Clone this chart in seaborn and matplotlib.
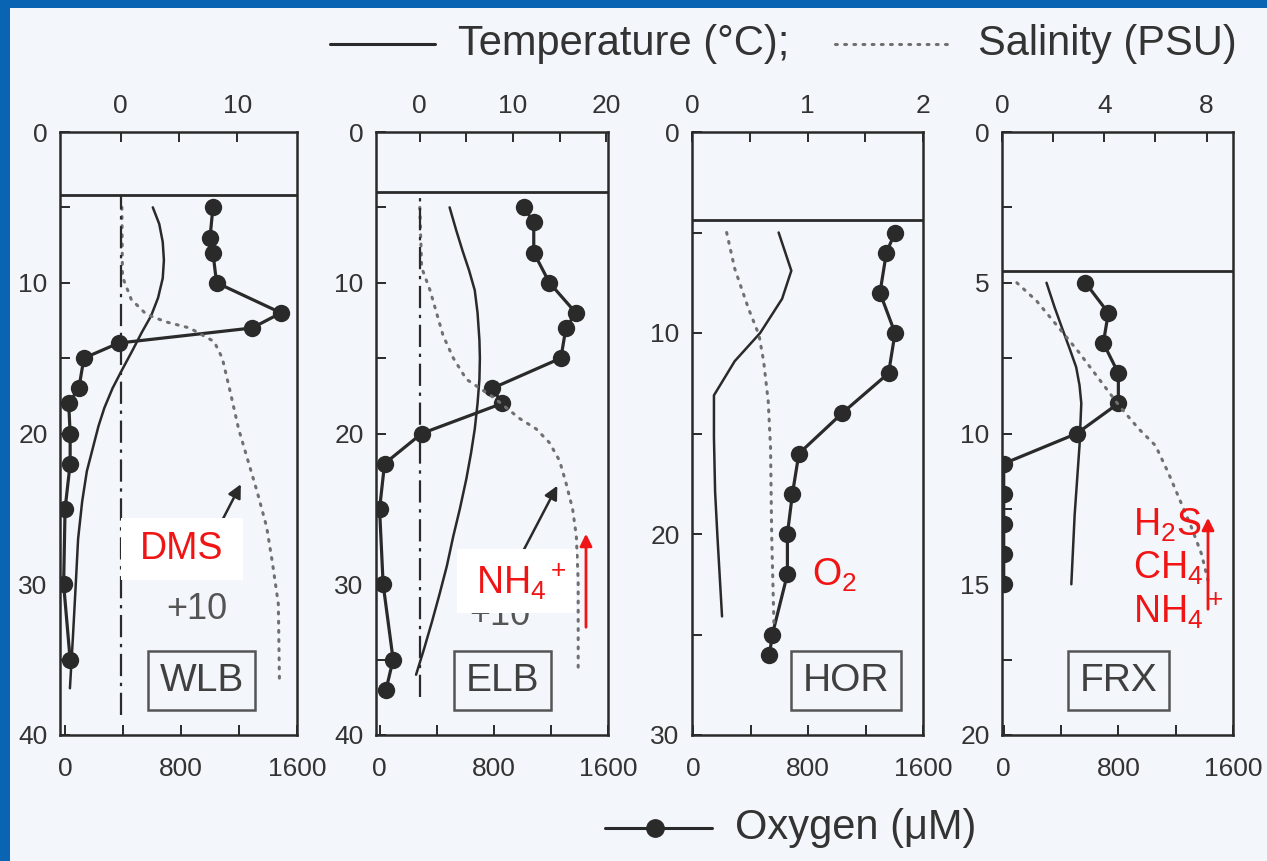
import numpy as np
import seaborn as sns
import matplotlib.pyplot as plt
from matplotlib.patches import Rectangle
from matplotlib.lines import Line2D

# ---------------- data ----------------
stations = ["WLB", "ELB", "HOR", "FRX"]

# oxygen (uM) against depth (m)
wlb_o2_depth = [5, 7, 8, 10, 12, 13, 14, 15, 17, 18, 20, 22, 25, 30, 35]
wlb_o2 = [1020, 1000, 1020, 1045, 1490, 1290, 370, 130, 95, 25, 35, 35, 0, -10, 35]
elb_o2_depth = [5, 6, 8, 10, 12, 13, 15, 17, 18, 20, 22, 25, 30, 35, 37]
elb_o2 = [1010, 1080, 1080, 1190, 1375, 1305, 1270, 790, 860, 295, 35, 0, 25, 95, 45]
hor_o2_depth = [5, 6, 8, 10, 12, 14, 16, 18, 20, 22, 25, 26]
hor_o2 = [1405, 1345, 1300, 1405, 1360, 1035, 735, 690, 655, 655, 550, 530]
frx_o2_depth = [5, 6, 7, 8, 9, 10, 11, 12, 13, 14, 15]
frx_o2 = [570, 730, 695, 800, 800, 510, 0, 0, 0, 0, 0]

# temperature (deg C) against depth
wlb_temp_depth = [5, 6.1, 7.3, 8.5, 9.7, 11, 12.2, 13.3, 14.5, 15.8, 17, 18.3, 19.5, 21, 22.5,
                  24.5, 27, 30, 33.6, 36.9]
wlb_temp = [2.75, 3.3, 3.6, 3.7, 3.6, 3.2, 2.6, 1.8, 1.0, 0.1, -0.7, -1.4, -1.9, -2.4, -2.9,
            -3.3, -3.65, -3.85, -4.1, -4.35]
elb_temp_depth = [5, 6.5, 7.9, 9.2, 10.5, 12, 13.8, 15, 16.4, 18, 19.7, 21.3, 23, 25, 26.8,
                  28.8, 30.7, 32.5, 34.2, 36.0]
elb_temp = [3.2, 3.9, 4.6, 5.3, 5.9, 6.2, 6.4, 6.45, 6.4, 6.2, 5.9, 5.5, 5.0, 4.3, 3.6,
            2.9, 2.1, 1.3, 0.5, -0.4]
hor_temp_depth = [5, 6.9, 8.3, 10.0, 11.4, 13.1, 15.2, 17.9, 20.1, 24.1]
hor_temp = [0.75, 0.86, 0.78, 0.59, 0.37, 0.19, 0.19, 0.20, 0.22, 0.26]
frx_temp_depth = [5, 5.8, 6.6, 7.2, 7.8, 8.4, 9.0, 10.4, 12.7, 15.0]
frx_temp = [1.74, 2.05, 2.39, 2.65, 2.9, 3.03, 3.1, 3.03, 2.84, 2.71]

# salinity (PSU) against depth (WLB / ELB drawn +10 offset)
wlb_sal_depth = [5, 9.6, 11.1, 12.1, 12.6, 13.0, 13.9, 15.0, 17.3, 19.7, 21.8, 23.9, 26.2, 28.6, 31.3, 36.6]
wlb_sal = [0.1, 0.15, 0.9, 2.2, 3.9, 5.9, 8.0, 8.7, 9.4, 10.1, 10.9, 11.7, 12.5, 13.0, 13.5, 13.6]
elb_sal_depth = [5, 9.0, 10.5, 13.5, 15.0, 16.4, 17.6, 19.0, 19.7, 20.6, 21.8, 23.3, 25.0, 26.8, 29.8, 35.7]
elb_sal = [0.0, 0.2, 1.1, 2.5, 3.6, 5.0, 7.9, 10.7, 12.5, 13.9, 15.0, 15.7, 16.4, 16.8, 17.0, 17.0]
hor_sal_depth = [5, 6.8, 8.8, 10.1, 11.4, 13.4, 15.7, 20.1, 24.6]
hor_sal = [0.30, 0.37, 0.49, 0.58, 0.62, 0.66, 0.68, 0.69, 0.71]
frx_sal_depth = [5, 5.6, 6.4, 7.3, 8.2, 9.1, 9.85, 10.4, 11.3, 12.1, 13.1, 14.0, 14.9]
frx_sal = [0.58, 1.35, 2.13, 3.0, 3.8, 4.6, 5.35, 6.0, 6.5, 6.9, 7.4, 7.8, 8.06]

# depth of the horizontal surface line in each panel
surface_depth = [4.15, 3.95, 4.4, 4.6]

o2_depths = [wlb_o2_depth, elb_o2_depth, hor_o2_depth, frx_o2_depth]
o2_vals = [wlb_o2, elb_o2, hor_o2, frx_o2]
temp_depths = [wlb_temp_depth, elb_temp_depth, hor_temp_depth, frx_temp_depth]
temp_vals = [wlb_temp, elb_temp, hor_temp, frx_temp]
sal_depths = [wlb_sal_depth, elb_sal_depth, hor_sal_depth, frx_sal_depth]
sal_vals = [wlb_sal, elb_sal, hor_sal, frx_sal]

# ---------------- axes layout ----------------
depth_max = [40, 40, 30, 20]
depth_step = [10, 10, 10, 5]
o2_left = [-35, -25, -10, -12]
ts_lim = [(-5.2, 15.1), (-4.7, 20.2), (0.0, 2.0), (0.06, 9.03)]
ts_major = [[0, 10], [0, 10, 20], [0, 1, 2], [0, 4, 8]]
ts_minor = [[5], [5, 15], [0.5, 1.5], [2, 6]]
label_x = [0.597, 0.544, 0.665, 0.506]
zero_line_end = [38.7, 37.5, None, None]

W, H = 1267, 861
panel_x = [(60, 297), (376, 608), (692, 923), (1002, 1233)]
panel_top, panel_bot = 132, 735

ink = "#2a2a2a"
grey = "#5a5a5a"
red = "#f01414"
blue = "#0a64b4"

sns.set_theme(style="ticks")
plt.rcParams["font.family"] = ["Liberation Sans", "DejaVu Sans"]
plt.rcParams["mathtext.fontset"] = "custom"
plt.rcParams["mathtext.rm"] = "Liberation Sans"
plt.rcParams["mathtext.it"] = "Liberation Sans:italic"
plt.rcParams["mathtext.bf"] = "Liberation Sans:bold"

fig = plt.figure(figsize=(W / 100, H / 100), dpi=100)
fig.patch.set_facecolor("#f3f6fa")

for i, name in enumerate(stations):
    x0, x1 = panel_x[i]
    ax = fig.add_axes([x0 / W, 1 - panel_bot / H, (x1 - x0) / W, (panel_bot - panel_top) / H])
    ax.set_facecolor("none")
    axt = ax.twiny()

    sns.lineplot(x=o2_vals[i], y=o2_depths[i], sort=False, estimator=None, ax=ax,
                 color=ink, lw=2.3, marker="o", markersize=12.5, markeredgewidth=0)
    sns.lineplot(x=temp_vals[i], y=temp_depths[i], sort=False, estimator=None, ax=axt,
                 color=ink, lw=1.8)
    sns.lineplot(x=sal_vals[i], y=sal_depths[i], sort=False, estimator=None, ax=axt,
                 color="#707070", lw=2.2, linestyle=(0, (0.6, 2.4)), dash_capstyle="round")

    ax.set_xlim(o2_left[i], 1600)
    axt.set_xlim(*ts_lim[i])
    ax.set_ylim(depth_max[i], 0)
    for a in (ax, axt):
        a.set_xlabel("")
        a.set_ylabel("")

    ax.axhline(surface_depth[i], color=ink, lw=2.0)
    if zero_line_end[i] is not None:
        axt.axvline(0, ymin=1 - zero_line_end[i] / depth_max[i],
                    ymax=1 - surface_depth[i] / depth_max[i],
                    color=ink, lw=1.6, linestyle=(0, (10, 3, 1.5, 3)))

    ax.set_xticks([0, 800, 1600])
    ax.set_xticks([400, 1200], minor=True)
    ax.set_yticks(list(range(0, depth_max[i] + 1, depth_step[i])))
    ax.set_yticks([v + depth_step[i] / 2 for v in range(0, depth_max[i], depth_step[i])], minor=True)
    axt.set_xticks(ts_major[i])
    axt.set_xticks(ts_minor[i], minor=True)

    ax.tick_params(axis="both", which="both", direction="in", length=7, width=1.4,
                   color=ink, labelcolor="#333333", labelsize=19,
                   bottom=True, left=True, top=False, right=False)
    ax.tick_params(axis="x", pad=16)
    ax.tick_params(axis="y", pad=9)
    axt.tick_params(axis="x", which="both", direction="in", length=7, width=1.4,
                    color=ink, labelcolor="#333333", labelsize=19, pad=10,
                    top=True, labeltop=True, bottom=False, labelbottom=False)
    for s in ax.spines.values():
        s.set_visible(True)
        s.set_color(ink)
        s.set_linewidth(1.8)
    for s in axt.spines.values():
        s.set_visible(False)

    ax.text(label_x[i], 0.09, name, transform=ax.transAxes, ha="center", va="center",
            fontsize=28, color="#404040",
            bbox=dict(boxstyle="square,pad=0.3", fc="none", ec="#555555", lw=1.8))

    if name == "WLB":
        axt.annotate("", xy=(10.4, 23.2), xytext=(8.0, 26.8),
                     arrowprops=dict(arrowstyle="-|>", color=ink, lw=1.8, mutation_scale=20))
        axt.text(6.5, 31.7, "+10", ha="center", va="center", fontsize=26, color="#555555")
    if name == "ELB":
        axt.annotate("", xy=(14.9, 23.3), xytext=(10.5, 28.5),
                     arrowprops=dict(arrowstyle="-|>", color=ink, lw=1.8, mutation_scale=20))
        axt.text(8.6, 32.1, "+10", ha="center", va="center", fontsize=26, color="#555555")


def fx(x):
    return x / W


def fy(y):
    return 1 - y / H


# legend at the top
fig.add_artist(Line2D([fx(330), fx(435)], [fy(44), fy(44)], color=ink, lw=2.2))
fig.text(fx(458), fy(44), "Temperature (°C);", fontsize=30, va="center", ha="left", color="#333333")
fig.add_artist(Line2D([fx(835), fx(950)], [fy(44), fy(44)], color="#707070", lw=2.2,
                      linestyle=(0, (0.6, 2.4)), dash_capstyle="round"))
fig.text(fx(978), fy(44), "Salinity (PSU)", fontsize=30, va="center", ha="left", color="#333333")

# legend at the bottom
fig.add_artist(Line2D([fx(605), fx(712)], [fy(828), fy(828)], color=ink, lw=2.2))
fig.add_artist(Line2D([fx(655)], [fy(828)], marker="o", markersize=12.5, color=ink, lw=0))
fig.text(fx(735), fy(828), "Oxygen (μM)", fontsize=30, va="center", ha="left", color="#333333")

# red annotations
fig.add_artist(Rectangle((fx(121), fy(580)), (243 - 121) / W, (580 - 518) / H,
                         transform=fig.transFigure, fc="white", ec="none", zorder=5))
fig.text(fx(182), fy(549), "DMS", fontsize=27, color=red, ha="center", va="center", zorder=6)

fig.add_artist(Rectangle((fx(457), fy(613)), (576 - 457) / W, (613 - 549) / H,
                         transform=fig.transFigure, fc="white", ec="none", zorder=5))
fig.text(fx(476), fy(582), r"NH$_4$$^+$", fontsize=27, color=red, ha="left", va="center", zorder=6)
fig.add_artist(plt.Annotation("", xy=(fx(586), fy(531)), xytext=(fx(586), fy(630)),
                              xycoords="figure fraction", textcoords="figure fraction",
                              arrowprops=dict(arrowstyle="-|>", color=red, lw=2, mutation_scale=18),
                              zorder=6))

fig.text(fx(812), fy(575), r"O$_2$", fontsize=27, color=red, ha="left", va="center", zorder=6)

fig.text(fx(1133), fy(525), r"H$_2$S", fontsize=27, color=red, ha="left", va="center", zorder=6)
fig.text(fx(1133), fy(568), r"CH$_4$", fontsize=27, color=red, ha="left", va="center", zorder=6)
fig.text(fx(1133), fy(611), r"NH$_4$$^+$", fontsize=27, color=red, ha="left", va="center", zorder=6)
fig.add_artist(plt.Annotation("", xy=(fx(1208), fy(515)), xytext=(fx(1208), fy(612)),
                              xycoords="figure fraction", textcoords="figure fraction",
                              arrowprops=dict(arrowstyle="-|>", color=red, lw=2, mutation_scale=18),
                              zorder=6))

# blue frame of the slide
fig.add_artist(Rectangle((0, 0), fx(10), 1, transform=fig.transFigure, fc=blue, ec="none", zorder=10))
fig.add_artist(Rectangle((0, fy(8)), 1, 8 / H, transform=fig.transFigure, fc=blue, ec="none", zorder=10))

fig.savefig("out.png", dpi=100, facecolor=fig.get_facecolor())
